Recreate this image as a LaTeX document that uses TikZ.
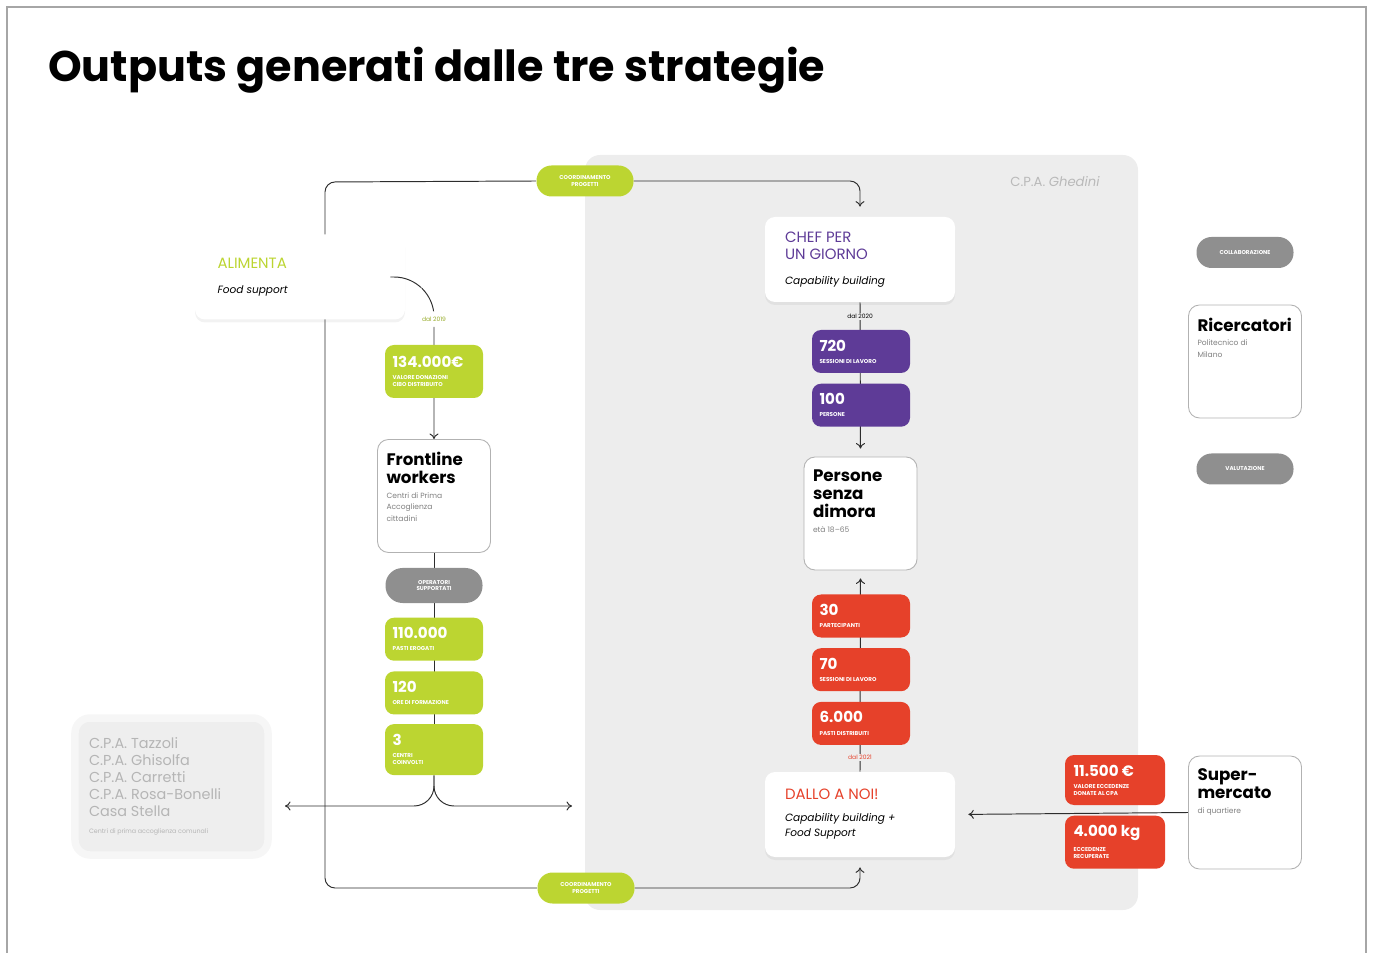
\documentclass[tikz,border=0pt]{standalone}
\usepackage{fontspec}
\setmainfont{Poppins}
\usetikzlibrary{positioning,shadows,backgrounds,arrows.meta}

\definecolor{lime}{HTML}{BCD531}
\definecolor{viola}{HTML}{5E3B97}
\definecolor{rosso}{HTML}{E6412A}
\definecolor{pannello}{HTML}{EDEDED}
\definecolor{grigio}{HTML}{8F8F8F}

% corpo del testo con spazi naturali del font
\newcommand{\corpo}[2]{\fontsize{#1}{#2}\selectfont\spaceskip=0pt\xspaceskip=0pt\relax}
% numero grande + didascalia minuscola nei riquadri colorati
\newcommand{\cifra}[2]{\parbox{16.6mm}{{\corpo{8.6}{9.5}\bfseries #1\par}\vspace{3pt}{\corpo{3.2}{3.9}\bfseries #2\par}}}
% riquadri bordati: titolo in alto, nota grigia sotto
\newcommand{\scheda}[2]{\parbox[c][17.4mm][t]{19mm}{\corpo{9.5}{10.2}\bfseries #1\par\vspace{0.6mm}{\corpo{4.3}{6.6}\mdseries\color{gray}#2\par}}}
% schede bianche delle tre strategie
\newcommand{\strategia}[4]{\parbox{#1}{{\corpo{8.5}{9.6}#2\par}\vspace{#3}{\corpo{6}{9}\itshape #4\par}}}

\begin{document}
\begin{tikzpicture}[x=0.2mm,y=-0.2mm,node distance=2mm,
    card/.style={fill=white,rounded corners=2mm,
        minimum width=38mm,minimum height=17mm,inner xsep=4mm,
        drop shadow={opacity=0.10,shadow xshift=0mm,shadow yshift=-0.6mm}},
    frame/.style={draw=gray!60,line width=0.5pt,fill=white,rounded corners=2.2mm,
        minimum width=22.6mm,minimum height=22.6mm,inner xsep=1.8mm,inner ysep=2.6mm},
    stat/.style={rounded corners=1.8mm,text=white,minimum width=19.6mm,minimum height=8.6mm,
        inner xsep=1.5mm},
    pill/.style={rounded corners=3mm,minimum width=19.4mm,minimum height=6.2mm,text=white,
        align=center,font=\corpo{3.2}{3.9}\bfseries},
    tag/.style={font=\corpo{3.4}{4},inner sep=0.6pt},
    link/.style={draw=gray!35!black,line width=0.55pt},
    flow/.style={link,-{To[length=1.1mm,width=1.8mm]}}]

    \useasboundingbox (0,0) rectangle (1373,953);
    \draw[gray!70,line width=0.8pt] (7,960) -- (7,7) -- (1366,7) -- (1366,960);

    \node[anchor=base west,font=\fontsize{24.4}{28}\selectfont\bfseries] (title) at (42,82)
        {Outputs generati dalle tre strategie};

    % --- ALIMENTA: colonna di sinistra ---
    \node[stat,fill=lime,minimum height=10.6mm] (g1) at (434,371.5)
        {\cifra{134.000€}{VALORE DONAZIONI\\CIBO DISTRIBUITO}};
    \node[frame] (fw) at (434,496)
        {\scheda{Frontline\\workers}{Centri di Prima\\Accoglienza\\cittadini}};
    \node[pill,fill=grigio,minimum height=7mm,rounded corners=3.4mm] (gp1) at (434,585.5)
        {OPERATORI\\SUPPORTATI};
    \node[stat,fill=lime,below=2.8mm of gp1] (g2) {\cifra{110.000}{PASTI EROGATI}};
    \node[stat,fill=lime,below=2mm of g2]    (g3) {\cifra{120}{ORE DI FORMAZIONE}};
    \node[stat,fill=lime,below=1.8mm of g3,minimum height=10.2mm] (g4)
        {\cifra{3}{CENTRI\\COINVOLTI}};

    \node[fill=gray!13,draw=gray!7,line width=1.5mm,rounded corners=3mm,text=gray!58,
          minimum width=38.6mm,minimum height=27.4mm,text width=33mm,align=left] (cpa) at (171.5,786.5)
        {\corpo{8.2}{9.6}C.P.A. Tazzoli\\C.P.A. Ghisolfa\\C.P.A. Carretti\\C.P.A. Rosa-Bonelli\\Casa Stella\\[-2pt]
         {\corpo{3.6}{4}Centri di prima accoglienza comunali}};
    \coordinate (outl) at (285,806);
    \coordinate (outr) at (572,806);

    % --- C.P.A. Ghedini: colonna centrale ---
    \node[font=\corpo{7.5}{9},text=gray!55] (ghedini) at (1055,182) {C.P.A. \textit{Ghedini}};
    \node[card] (chef) at (860,259.5)
        {\strategia{30mm}{\color{viola}CHEF PER\\UN GIORNO}{5pt}{Capability building}};
    \node[stat,fill=viola] (p1) at (861,351.5) {\cifra{720}{SESSIONI DI LAVORO}};
    \node[stat,fill=viola,below=of p1] (p2) {\cifra{100}{PERSONE}};
    \node[frame] (persone) at (860.5,513.5)
        {\scheda{Persone\\senza\\dimora}{età 18--65}};
    \node[stat,fill=rosso] (r1) at (861,616) {\cifra{30}{PARTECIPANTI}};
    \node[stat,fill=rosso,below=of r1] (r2) {\cifra{70}{SESSIONI DI LAVORO}};
    \node[stat,fill=rosso,below=of r2] (r3) {\cifra{6.000}{PASTI DISTRIBUITI}};
    \node[card] (dallo) at (860,814.5)
        {\strategia{30mm}{\color{rosso}DALLO A NOI!}{3pt}{Capability building +\\Food Support}};

    \node[pill,fill=lime] (pilltop) at (585,181) {COORDINAMENTO\\PROGETTI};
    \node[pill,fill=lime] (pillbot) at (586,888) {COORDINAMENTO\\PROGETTI};

    % --- attori esterni: colonna di destra ---
    \node[pill,fill=grigio] (collab) at (1245,252.5) {COLLABORAZIONE};
    \node[frame] (ric) at (1245,361.5)
        {\scheda{Ricercatori}{Politecnico di\\Milano}};
    \node[pill,fill=grigio] (valut) at (1245,469) {VALUTAZIONE};
    \node[frame] (super) at (1245,812.5)
        {\scheda{Super-\\mercato}{di quartiere}};
    \node[stat,fill=rosso,minimum width=20mm,minimum height=10mm] (rs1) at (1115,780)
        {\cifra{11.500 €}{VALORE ECCEDENZE\\DONATE AL CPA}};
    \node[stat,fill=rosso,minimum width=20mm,minimum height=10.6mm,below=of rs1] (rs2)
        {\cifra{4.000 kg}{ECCEDENZE\\RECUPERATE}};

    \begin{scope}[on background layer]
        \fill[pannello,rounded corners=3mm] (585,155) rectangle (1138,910);
        % anello di coordinamento
        \coordinate (loopnw) at (325,182);
        \coordinate (loopsw) at (325,888);
        \draw[link,rounded corners=2mm] (pillbot.west) -- (loopsw) -- (loopnw) -- (pilltop.west);
        \draw[flow,rounded corners=2mm,shorten >=2mm] (pilltop.east) -| (chef.north);
        \draw[flow,rounded corners=2mm,shorten >=2mm] (pillbot.east) -| (dallo.south);
        % la scheda ALIMENTA copre l'anello, la freccia parte da dentro
        \node[card,minimum width=42mm] (alimenta) at (300,277)
            {\strategia{33mm}{\color{lime}ALIMENTA}{5pt}{Food support}};
        \draw[flow,rounded corners=8mm] ([xshift=-3mm]alimenta.east) -| (fw.north)
            node[tag,fill=white,text=lime!80!black,pos=0.63] {dal 2019};
        % flussi
        \draw[link] (fw.south) -- (g4.south);
        \draw[flow,rounded corners=4mm] (g4.south) |- (outl);
        \draw[flow,rounded corners=4mm] (g4.south) |- (outr);
        \draw[flow,shorten >=1.6mm] (chef.south) -- (persone.north)
            node[tag,fill=pannello,pos=0.09] {dal 2020};
        \draw[flow,shorten >=1.6mm] (dallo.north) -- (persone.south)
            node[tag,fill=pannello,text=rosso,pos=0.07] {dal 2021};
        \draw[flow,shorten >=2.6mm] (super.west) -- (dallo.east);
    \end{scope}
\end{tikzpicture}
\end{document}
